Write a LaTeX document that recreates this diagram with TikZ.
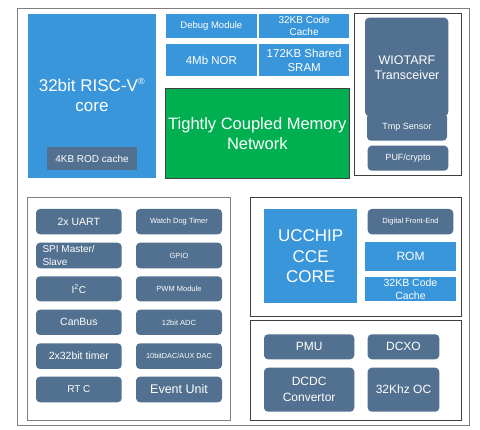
\documentclass[tikz,border=0pt]{standalone}
\usepackage{fontspec}
\setmainfont{Liberation Sans}
\definecolor{cblue}{HTML}{3A96DA}
\definecolor{cslate}{HTML}{52708F}
\definecolor{cgreen}{HTML}{00B050}
\definecolor{cframe}{HTML}{7F7F7F}
\definecolor{cdark}{HTML}{404040}
\tikzset{
  bx/.style={inner sep=0pt, align=center, text=white},
  bluebox/.style={bx, fill=cblue},
  slatebox/.style={bx, fill=cslate, rounded corners=4pt},
  slatesq/.style={bx, fill=cslate},
  grp/.style={draw=cdark, line width=0.8pt, inner sep=0pt},
}
% \bxn{name}{style}{x1}{y1}{x2}{y2}{text}
\newcommand\bxn[7]{%
  \node[#2, minimum width={(#5-#3)*1pt}, minimum height={(#6-#4)*1pt}] (#1) at ({(#3+#5)/2},{(#4+#6)/2}) {#7};}
\begin{document}
\begin{tikzpicture}[x=1pt,y=-1pt]
\useasboundingbox[fill=white] (0,0) rectangle (480,430);
\bxn{outer}{draw=cframe, line width=0.9pt, inner sep=0pt}{17.3}{8.3}{469}{425}{}
% top area
\bxn{risc}{bluebox}{27.7}{14}{156.3}{178.3}{}
\node[text=white, font=\fontsize{17}{20}\selectfont, align=center] (risct) at (92,95) {32bit RISC-V\textsuperscript{\fontsize{9}{9}\selectfont®}\\core};
\bxn{rod}{slatesq, font=\fontsize{10}{12}\selectfont}{47.3}{147.3}{136.7}{170}{4KB ROD cache}
\bxn{debug}{bluebox, font=\fontsize{9.5}{11}\selectfont}{166}{14}{256.7}{38.3}{Debug Module}
\bxn{cc1}{bluebox, font=\fontsize{10}{12.5}\selectfont}{259}{14}{349.3}{38.3}{32KB Code\\Cache}
\bxn{nor}{bluebox, font=\fontsize{11.5}{13}\selectfont}{166}{44.3}{256.7}{75.7}{4Mb NOR}
\bxn{sram}{bluebox, font=\fontsize{11.5}{14}\selectfont}{259}{44.3}{349.3}{75.7}{172KB Shared\\SRAM}
\bxn{tcm}{bx, fill=cgreen, draw=cdark, line width=0.6pt, font=\fontsize{16.5}{20}\selectfont}{165.3}{88}{349.3}{178.3}{Tightly Coupled Memory\\Network}
% right box
\bxn{rf}{grp}{354.3}{13.3}{461.7}{175.3}{}
\bxn{tmp}{slatebox, font=\fontsize{9}{11}\selectfont}{367}{113}{447}{140.7}{\raisebox{-1.5pt}{Tmp Sensor}}
\bxn{wiota}{slatebox}{365}{17.7}{448.3}{116}{}
\node[text=white, font=\fontsize{12.5}{15}\selectfont, align=center] (wiotat) at (407,68) {WIOTARF\\Transceiver};
\bxn{puf}{slatebox, font=\fontsize{9}{11}\selectfont}{367.7}{145.7}{448.3}{170.7}{PUF/crypto}
% lower left
\bxn{periph}{draw=cframe, line width=0.8pt, inner sep=0pt}{27.7}{197.3}{230.7}{420}{}
\bxn{uart}{slatebox, font=\fontsize{10.5}{12}\selectfont}{36}{209}{121.7}{234.3}{2x UART}
\bxn{spi}{slatebox}{36}{242.7}{121.7}{268.3}{}
\node[text=white, font=\fontsize{10}{12.5}\selectfont, align=left, anchor=west] (spit) at (39,255.5) {SPI Master/\\Slave};
\bxn{i2c}{slatebox, font=\fontsize{10}{12}\selectfont}{36}{276.3}{121.7}{301.3}{I\textsuperscript{2}C}
\bxn{can}{slatebox, font=\fontsize{10.5}{12}\selectfont}{36}{309.7}{121.7}{335}{CanBus}
\bxn{tim}{slatebox, font=\fontsize{10.5}{12}\selectfont}{36}{343.3}{121.7}{369}{2x32bit timer}
\bxn{rtc}{slatebox, font=\fontsize{10}{12}\selectfont}{36}{376.7}{121.7}{402.3}{RT C}
\bxn{wdt}{slatebox, font=\fontsize{7.5}{9}\selectfont}{136}{209}{222}{234.3}{Watch Dog Timer}
\bxn{gpio}{slatebox, font=\fontsize{7.5}{9}\selectfont}{136}{242.7}{222}{268.3}{GPIO}
\bxn{pwm}{slatebox, font=\fontsize{7.5}{9}\selectfont}{136}{276.3}{222}{301.3}{PWM Module}
\bxn{adc}{slatebox, font=\fontsize{7.5}{9}\selectfont}{136}{309.7}{222}{335}{12bit ADC}
\bxn{dac}{slatebox, font=\fontsize{7.3}{9}\selectfont}{136}{343.3}{222}{369}{10bitDAC/AUX DAC}
\bxn{evt}{slatebox, font=\fontsize{12.5}{14}\selectfont}{136}{376.7}{222}{402.3}{Event Unit}
% lower right top
\bxn{cce}{grp}{250.7}{197.3}{461.7}{316.7}{}
\bxn{core}{bluebox, font=\fontsize{17}{20.5}\selectfont}{264}{209}{357.3}{303.3}{UCCHIP\\CCE\\CORE}
\bxn{dfe}{slatebox, font=\fontsize{7.5}{9}\selectfont}{367.7}{209}{453.3}{234.3}{Digital Front-End}
\bxn{rom}{bluebox, font=\fontsize{12}{14}\selectfont}{365}{242.3}{456}{271}{ROM}
\bxn{cc2}{bluebox, font=\fontsize{10.5}{13.5}\selectfont}{365}{276.7}{456}{301.3}{32KB Code\\Cache}
% lower right bottom
\bxn{pwr}{grp}{250.7}{320}{461.7}{420}{}
\bxn{pmu}{slatebox, font=\fontsize{12}{14}\selectfont}{264}{334.3}{354.3}{359.3}{PMU}
\bxn{dcxo}{slatebox, font=\fontsize{12}{14}\selectfont}{367.7}{334.3}{439.3}{359.3}{DCXO}
\bxn{dcdc}{slatebox, font=\fontsize{12}{16}\selectfont}{264}{367.7}{354.3}{411.7}{DCDC\\Convertor}
\bxn{osc}{slatebox, font=\fontsize{12}{14}\selectfont}{367.7}{367.7}{439.3}{411.7}{32Khz OC}
\end{tikzpicture}
\end{document}
